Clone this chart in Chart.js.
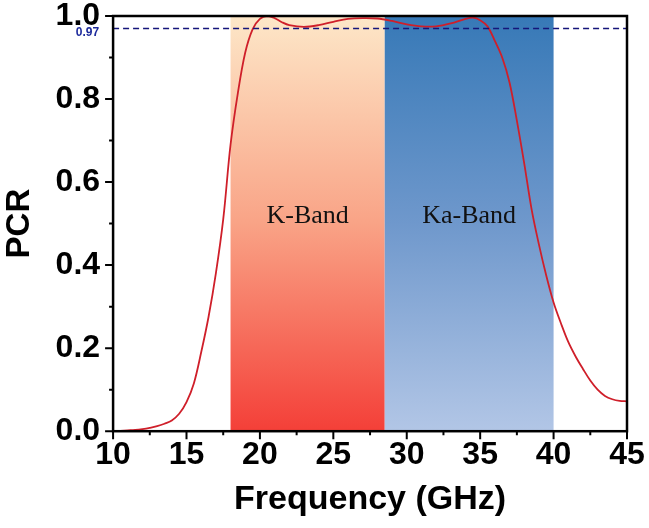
<!DOCTYPE html>
<html>
<head>
<meta charset="utf-8">
<script src="https://cdn.jsdelivr.net/npm/chart.js@4/dist/chart.umd.min.js"></script>
<style>
  html, body { margin: 0; padding: 0; background: #fff; }
  #wrap { width: 649px; height: 528px; }
</style>
</head>
<body>
<div id="wrap"><canvas id="pcr"></canvas></div>
<script>
// curve
const freq = [10, 10.5, 11, 11.5, 12, 12.5, 13, 13.5, 14, 14.5, 15, 15.5, 16, 16.5, 17, 17.5, 18, 18.5, 19, 19.5, 20, 20.5, 21, 21.5, 22, 23, 24, 25, 26, 27, 28, 29, 30, 31, 32, 33, 34, 34.5, 35, 35.5, 36, 36.5, 37, 37.5, 38, 38.5, 39, 39.5, 40, 40.5, 41, 41.5, 42, 42.5, 43, 43.5, 44, 44.5, 45];
const pcr = [0.0, 0.001, 0.002, 0.003, 0.005, 0.008, 0.012, 0.018, 0.026, 0.042, 0.07, 0.115, 0.19, 0.275, 0.38, 0.51, 0.69, 0.815, 0.912, 0.968, 0.993, 1.0, 0.995, 0.985, 0.978, 0.974, 0.978, 0.986, 0.993, 0.995, 0.994, 0.988, 0.98, 0.975, 0.975, 0.982, 0.993, 0.996, 0.99, 0.975, 0.94, 0.9, 0.84, 0.748, 0.645, 0.535, 0.45, 0.375, 0.31, 0.26, 0.215, 0.18, 0.15, 0.122, 0.1, 0.085, 0.077, 0.073, 0.072];

// frequency bands
const bandNames = ['K-Band', 'Ka-Band'];
const bandStart = [18, 28.5];
const bandEnd = [28.5, 40];

// reference level
const refLevel = 0.97;
const refLabel = '0.97';

// axis ticks
const xTicks = [10, 15, 20, 25, 30, 35, 40, 45];
const yTicks = [0, 0.2, 0.4, 0.6, 0.8, 1.0];

const bandColors = [
    ['#fde7c8', '#f9a386', '#f43f38'],
    ['#3779b7', '#6f98cc', '#b2c6e6']
];

const decorPlugin = {
    id: 'decor',
    beforeDatasetsDraw(chart) {
        const { ctx, chartArea: a, scales: { x, y } } = chart;
        ctx.save();
        bandStart.forEach((s, i) => {
            const x0 = x.getPixelForValue(s);
            const x1 = x.getPixelForValue(bandEnd[i]);
            const g = ctx.createLinearGradient(0, a.top, 0, a.bottom);
            g.addColorStop(0, bandColors[i][0]);
            g.addColorStop(0.5, bandColors[i][1]);
            g.addColorStop(1, bandColors[i][2]);
            ctx.fillStyle = g;
            ctx.fillRect(x0, a.top, x1 - x0, a.bottom - a.top);

            ctx.fillStyle = '#111';
            ctx.font = '26px "Liberation Serif", "Times New Roman", serif';
            ctx.textAlign = 'center';
            ctx.textBaseline = 'middle';
            ctx.fillText(bandNames[i], (x0 + x1) / 2, y.getPixelForValue(0.517));
        });
        ctx.restore();
    },
    afterDatasetsDraw(chart) {
        const { ctx, chartArea: a, scales: { x, y } } = chart;
        ctx.save();
        // dashed reference line
        const yr = y.getPixelForValue(refLevel);
        ctx.strokeStyle = '#15157a';
        ctx.lineWidth = 1.5;
        ctx.setLineDash([6, 4]);
        ctx.beginPath();
        ctx.moveTo(a.left, yr);
        ctx.lineTo(a.right, yr);
        ctx.stroke();
        ctx.setLineDash([]);
        ctx.fillStyle = '#1d2a9c';
        ctx.font = 'bold 12px "Liberation Sans", Arial, sans-serif';
        ctx.textAlign = 'right';
        ctx.textBaseline = 'middle';
        ctx.fillText(refLabel, a.left - 14, yr + 4);

        // frame
        ctx.strokeStyle = '#000';
        ctx.lineWidth = 2.5;
        ctx.strokeRect(a.left, a.top, a.right - a.left, a.bottom - a.top);

        // ticks (major + minor) on left and bottom
        ctx.lineWidth = 2;
        ctx.beginPath();
        for (let v = 10; v <= 45.001; v += 2.5) {
            const px = x.getPixelForValue(v);
            const len = (Math.abs(v % 5) < 0.001) ? 8 : 4;
            ctx.moveTo(px, a.bottom);
            ctx.lineTo(px, a.bottom + len);
        }
        for (let v = 0; v <= 1.0001; v += 0.1) {
            const py = y.getPixelForValue(v);
            const major = Math.round(v * 10) % 2 === 0;
            ctx.moveTo(a.left, py);
            ctx.lineTo(a.left - (major ? 8 : 4), py);
        }
        ctx.stroke();
        ctx.restore();
    }
};

const points = freq.map((f, i) => ({ x: f, y: pcr[i] }));

new Chart(document.getElementById('pcr'), {
    type: 'scatter',
    data: {
        datasets: [{
            data: points,
            showLine: true,
            borderColor: '#cf1f2a',
            borderWidth: 1.8,
            pointRadius: 0,
            tension: 0.35,
            fill: false
        }]
    },
    options: {
        responsive: true,
        maintainAspectRatio: false,
        animation: false,
        layout: { padding: { top: 16, right: 22, bottom: 8, left: 0 } },
        plugins: {
            legend: { display: false },
            tooltip: { enabled: false }
        },
        scales: {
            x: {
                type: 'linear',
                min: 10,
                max: 45,
                afterBuildTicks: scale => { scale.ticks = xTicks.map(v => ({ value: v })); },
                afterFit: scale => { scale.paddingLeft = 0; scale.paddingRight = 0; },
                grid: { display: false, drawTicks: false },
                border: { display: false },
                ticks: {
                    padding: 8,
                    color: '#000',
                    font: { family: '"Liberation Sans", Arial, sans-serif', size: 32, weight: 'bold', lineHeight: 1 },
                    maxRotation: 0,
                    callback: v => String(v)
                },
                title: {
                    display: true,
                    text: 'Frequency (GHz)',
                    color: '#000',
                    font: { family: '"Liberation Sans", Arial, sans-serif', size: 34, weight: 'bold', lineHeight: 1.2 },
                    padding: { top: 0, bottom: 0 }
                }
            },
            y: {
                type: 'linear',
                min: 0,
                max: 1,
                afterBuildTicks: scale => { scale.ticks = yTicks.map(v => ({ value: v })); },
                afterFit: scale => { scale.paddingTop = 0; scale.paddingBottom = 0; },
                grid: { display: false, drawTicks: false },
                border: { display: false },
                ticks: {
                    padding: 13,
                    color: '#000',
                    font: { family: '"Liberation Sans", Arial, sans-serif', size: 32, weight: 'bold', lineHeight: 1 },
                    callback: v => v.toFixed(1)
                },
                title: {
                    display: true,
                    text: 'PCR',
                    color: '#000',
                    font: { family: '"Liberation Sans", Arial, sans-serif', size: 33, weight: 'bold', lineHeight: 1.2 },
                    padding: { top: 0, bottom: 3 }
                }
            }
        }
    },
    plugins: [decorPlugin]
});
</script>
</body>
</html>
